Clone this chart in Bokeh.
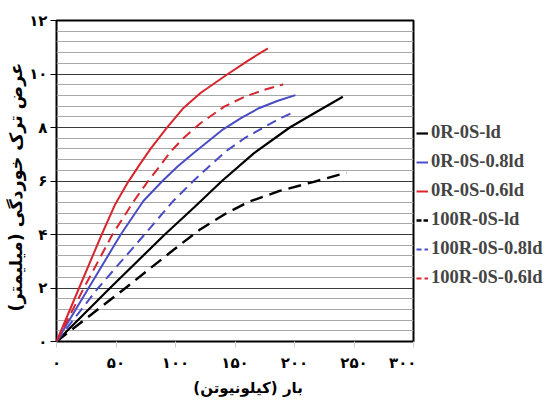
from bokeh.plotting import figure
from bokeh.layouts import row
from bokeh.models import Range1d, FixedTicker, Legend, LegendItem
from bokeh.embed import file_html
from bokeh.resources import INLINE

# ---- tick labels (Persian digits) ----
x_ticks = [0, 50, 100, 150, 200, 250, 300]
x_tick_labels = ["۰", "۵۰", "۱۰۰", "۱۵۰", "۲۰۰", "۲۵۰", "۳۰۰"]
y_ticks = [0, 2, 4, 6, 8, 10, 12]
y_tick_labels = ["۰", "۲", "۴", "۶", "۸", "۱۰", "۱۲"]
x_title = "بار (کیلونیوتن)"
y_title = "عرض ترک خوردگی (میلیمتر)"
RLM = "\u200f"
NBSP = "\u00a0"

# ---- series (load kN, crack width mm) ----
s1_name = "0R-0S-ld"
s1_x = [0, 45, 91, 116, 139, 166, 196, 218, 240.6]
s1_y = [0, 2, 4, 5.03, 6.0, 7.04, 8, 8.57, 9.15]

s2_name = "0R-0S-0.8ld"
s2_x = [0, 27, 54, 73, 89, 102, 115, 139, 155, 170, 186, 200.8]
s2_y = [0, 2, 4, 5.25, 6, 6.55, 7.04, 7.9, 8.35, 8.72, 9.0, 9.21]

s3_name = "0R-0S-0.6ld"
s3_x = [0, 19, 38, 49, 60, 70, 79, 92, 106, 121, 144, 161, 177.6]
s3_y = [0, 2, 4, 5.1, 5.95, 6.62, 7.2, 7.95, 8.7, 9.29, 10, 10.5, 10.96]

s4_name = "100R-0S-ld"
s4_x = [0, 58, 99, 121, 143, 162, 187.5, 215.5, 243.7]
s4_y = [0, 2, 3.45, 4.2, 4.8, 5.23, 5.63, 5.96, 6.31]

s5_name = "100R-0S-0.8ld"
s5_x = [0, 35, 74, 98, 115, 130, 143, 158, 174, 186, 198]
s5_y = [0, 2, 4, 5.25, 6, 6.62, 7.13, 7.6, 8.0, 8.3, 8.55]

s6_name = "100R-0S-0.6ld"
s6_x = [0, 23, 47, 65, 77, 85, 96, 107, 121, 141, 157, 174, 190.5]
s6_y = [0, 2, 4, 5.25, 6, 6.45, 7.1, 7.62, 8.16, 8.78, 9.13, 9.40, 9.61]

RED = "#d8262f"
BLUE = "#4a4cc6"
BLACK = "#000000"

p = figure(width=416, height=401, output_backend="svg", toolbar_location=None,
           x_range=Range1d(0, 300), y_range=Range1d(0, 12),
           min_border_left=56, min_border_right=3, min_border_top=20, min_border_bottom=60)
p.background_fill_color = "white"
p.border_fill_color = "white"
p.outline_line_color = "black"
p.outline_line_width = 2

minor_y = [i * 0.4 for i in range(1, 30) if i % 5 != 0]
p.yaxis.ticker = FixedTicker(ticks=y_ticks, minor_ticks=minor_y)
p.xaxis.ticker = FixedTicker(ticks=x_ticks)
p.yaxis.major_label_overrides = {t: l for t, l in zip(y_ticks, y_tick_labels)}
p.xaxis.major_label_overrides = {t: l for t, l in zip(x_ticks, x_tick_labels)}

p.xgrid.grid_line_color = None
p.ygrid.grid_line_color = "#3a3a3a"
p.ygrid.grid_line_width = 1
p.ygrid.minor_grid_line_color = "#a8a8a8"
p.ygrid.minor_grid_line_width = 1

for ax in (p.xaxis, p.yaxis):
    ax.axis_line_color = None
    ax.minor_tick_line_color = None
    ax.major_label_text_font = "DejaVu Sans"
    ax.major_label_text_font_style = "bold"
    ax.major_label_text_font_size = "15px"
    ax.major_label_text_color = "black"
    ax.axis_label_text_font = "DejaVu Sans"
    ax.axis_label_text_font_style = "bold"
    ax.axis_label_text_color = "black"
    ax.major_tick_in = 0
    ax.major_tick_out = 6

p.xaxis.major_tick_line_color = "#cfcfcf"
p.xaxis.major_label_standoff = 6
p.xaxis.axis_label = NBSP * 5 + x_title + RLM
p.xaxis.axis_label_text_font_size = "15px"
p.xaxis.axis_label_standoff = 4

p.yaxis.major_tick_line_color = "black"
p.yaxis.major_label_standoff = 3
p.yaxis.axis_label = y_title + RLM + NBSP * 2
p.yaxis.axis_label_text_font_size = "17.5px"
p.yaxis.axis_label_standoff = 0

series = [
    (s1_name, s1_x, s1_y, BLACK, "solid", 2.2, "solid"),
    (s2_name, s2_x, s2_y, BLUE, "solid", 2, "solid"),
    (s3_name, s3_x, s3_y, RED, "solid", 2, "solid"),
    (s4_name, s4_x, s4_y, BLACK, "13 7", 2.4, "5 2"),
    (s5_name, s5_x, s5_y, BLUE, "10 6", 2, "5 3"),
    (s6_name, s6_x, s6_y, RED, "10 6", 2, "5 3"),
]

# legend panel: a bare figure holding only the legend
pl = figure(width=136, height=401, output_backend="svg", toolbar_location=None,
            x_range=Range1d(1000, 1001), y_range=Range1d(0, 1),
            min_border_left=0, min_border_right=0, min_border_top=0, min_border_bottom=0)
pl.axis.visible = False
pl.grid.visible = False
pl.outline_line_color = None
pl.background_fill_color = "white"
pl.border_fill_color = "white"

items = []
for name, xs, ys, col, dash, w, ldash in series:
    p.line(xs, ys, line_color=col, line_width=w, line_dash=dash)
    r = pl.line(xs, ys, line_color=col, line_width=w, line_dash=ldash)
    items.append(LegendItem(label=name, renderers=[r]))

legend = Legend(items=items, location=(0, 53))
legend.border_line_color = None
legend.background_fill_alpha = 0
legend.label_text_font = "Liberation Serif"
legend.label_text_font_style = "bold"
legend.label_text_font_size = "18.5px"
legend.glyph_width = 12
legend.glyph_height = 20
legend.label_height = 20
legend.label_standoff = 3
legend.spacing = 8
legend.padding = 2
legend.margin = 0
pl.add_layout(legend, "center")

layout = row(p, pl, spacing=0)
open("out.html", "w").write(file_html(layout, INLINE))
